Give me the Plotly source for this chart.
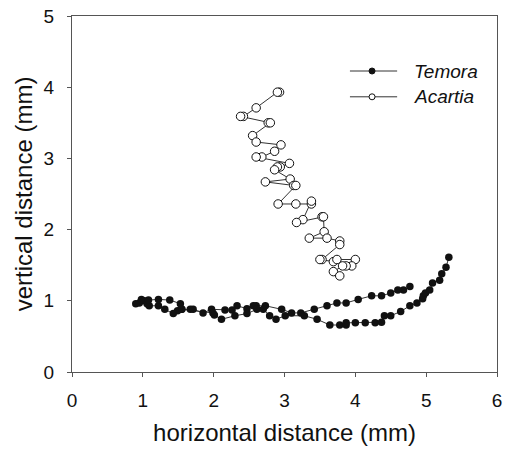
import plotly.graph_objects as go

# Temora track (filled circles)
temora_x = [4.77, 4.68, 4.60, 4.50, 4.37, 4.23, 4.04, 3.87, 3.74, 3.60, 3.42, 3.23, 3.10, 2.96,
            2.73, 2.60, 2.56, 2.47, 2.33, 2.26, 2.16, 1.97, 1.85, 1.71, 1.67, 1.55, 1.49, 1.43,
            1.31, 1.22, 1.09, 1.06, 0.95, 0.90, 0.98, 1.02, 1.08, 1.22, 1.38, 1.53, 1.55,
            1.99, 2.01, 2.11, 2.30, 2.47, 2.61, 2.70, 2.79, 2.88, 3.01, 3.28, 3.46, 3.64,
            3.78, 3.87, 3.87, 4.00, 4.14, 4.28, 4.37, 4.41, 4.50, 4.64, 4.77, 4.87, 4.95,
            4.96, 4.99, 5.05, 5.09, 5.19, 5.22, 5.28, 5.32]
temora_y = [1.20, 1.15, 1.15, 1.11, 1.07, 1.07, 1.02, 0.97, 0.97, 0.93, 0.88, 0.83, 0.83, 0.88,
            0.93, 0.93, 0.93, 0.89, 0.93, 0.87, 0.87, 0.88, 0.83, 0.88, 0.88, 0.88, 0.86, 0.82,
            0.88, 0.93, 0.93, 0.96, 0.97, 0.96, 1.02, 1.00, 1.01, 1.02, 1.01, 0.96, 0.88,
            0.83, 0.80, 0.74, 0.79, 0.82, 0.88, 0.88, 0.79, 0.74, 0.79, 0.79, 0.74, 0.66,
            0.66, 0.66, 0.69, 0.69, 0.69, 0.69, 0.70, 0.79, 0.79, 0.85, 0.93, 0.97, 1.03,
            1.07, 1.11, 1.15, 1.25, 1.29, 1.38, 1.47, 1.61]

# Acartia track (open circles)
acartia_x = [2.93, 2.90, 2.60, 2.42, 2.38, 2.77, 2.80, 2.55, 2.60, 2.95, 2.86, 2.68, 2.60,
             3.07, 2.94, 2.90, 2.86, 3.08, 2.73, 3.13, 3.16, 2.91, 3.16, 3.38, 3.38, 3.26,
             3.17, 3.53, 3.55, 3.56, 3.35, 3.60, 3.78, 3.78, 3.53, 3.50, 3.69, 3.74, 4.00,
             3.95, 3.87, 3.82, 3.69, 3.78]
acartia_y = [3.93, 3.93, 3.71, 3.59, 3.59, 3.50, 3.50, 3.32, 3.23, 3.19, 3.10, 3.02, 3.02,
             2.93, 2.88, 2.88, 2.84, 2.71, 2.67, 2.62, 2.62, 2.36, 2.36, 2.36, 2.40, 2.14,
             2.10, 2.18, 2.18, 1.97, 1.88, 1.88, 1.84, 1.79, 1.58, 1.58, 1.55, 1.58, 1.58,
             1.49, 1.49, 1.49, 1.41, 1.35]

x_ticks = [0, 1, 2, 3, 4, 5, 6]
y_ticks = [0, 1, 2, 3, 4, 5]
series_names = ["Temora", "Acartia"]

FONT = "Liberation Sans, Arial, sans-serif"
LINE_C = "#333333"
TXT_C = "#111111"

fig = go.Figure()
fig.add_trace(go.Scatter(
    x=temora_x, y=temora_y, mode="lines+markers", name=series_names[0],
    line=dict(color=LINE_C, width=1),
    marker=dict(symbol="circle", size=7.5, color="#111111", line=dict(width=0)),
    showlegend=False))
fig.add_trace(go.Scatter(
    x=acartia_x, y=acartia_y, mode="lines+markers", name=series_names[1],
    line=dict(color=LINE_C, width=1),
    marker=dict(symbol="circle", size=8.5, color="white", line=dict(color="#111111", width=1)),
    showlegend=False))

# custom legend (paper coordinates of the plot area)
legend_rows = [(0.8455, "filled"), (0.773, "open")]
shapes = []
annotations = []
for (py, kind), name in zip(legend_rows, series_names):
    shapes.append(dict(type="line", xref="paper", yref="paper", x0=0.654, x1=0.765, y0=py, y1=py,
                       line=dict(color=LINE_C, width=1)))
    shapes.append(dict(type="circle", xref="paper", yref="paper", xsizemode="pixel", ysizemode="pixel",
                       xanchor=0.706, yanchor=py, x0=-3, x1=3, y0=-3, y1=3,
                       fillcolor="#111111" if kind == "filled" else "white",
                       line=dict(color="#111111", width=1)))
    annotations.append(dict(xref="paper", yref="paper", x=0.800, y=py, xanchor="left", yanchor="middle",
                            text=f"<i>{name}</i>", showarrow=False,
                            font=dict(family=FONT, size=19, color=TXT_C)))

axis_common = dict(
    showgrid=False, zeroline=False, showline=True, mirror=True, automargin=False,
    ticklabeloverflow="allow",
    linecolor="#555555", linewidth=1, ticks="outside", ticklen=4, tickcolor="#555555",
    tickfont=dict(family=FONT, size=19, color=TXT_C),
)

fig.update_layout(
    width=507, height=452,
    margin=dict(l=72, r=10, t=16, b=80),
    paper_bgcolor="white", plot_bgcolor="white",
    hovermode=False,
    shapes=shapes, annotations=annotations,
    xaxis=dict(range=[0, 6], tickvals=x_ticks, ticklabelstandoff=7,
               title=dict(text="horizontal distance (mm)", font=dict(family=FONT, size=24, color=TXT_C),
                          standoff=14),
               **axis_common),
    yaxis=dict(range=[0, 5], tickvals=y_ticks, ticklabelstandoff=9,
               title=dict(text="vertical distance (mm)", font=dict(family=FONT, size=24, color=TXT_C),
                          standoff=4),
               **axis_common),
)

# remove the default 8px page margin so the figure fills the window exactly
fig.write_html("out.html",
               config={"displayModeBar": False, "staticPlot": True},
               post_script="document.body.style.margin='0px';document.body.style.overflow='hidden';")
